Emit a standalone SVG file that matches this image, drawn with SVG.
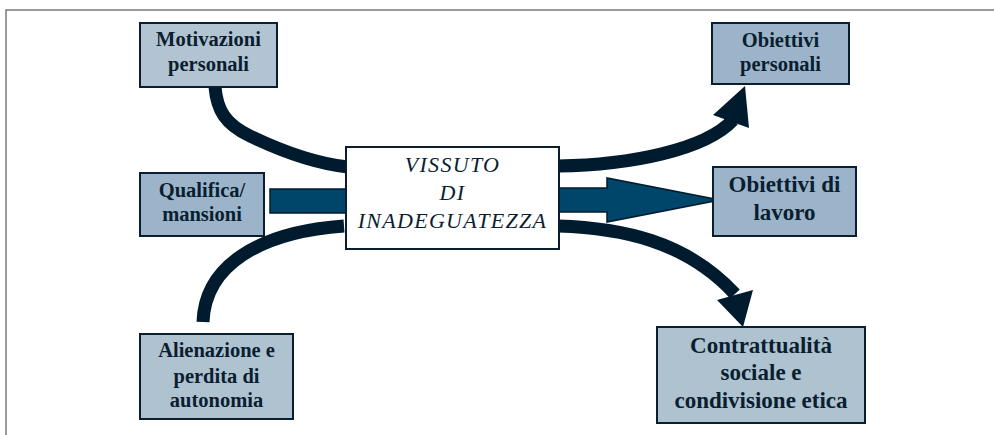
<svg xmlns="http://www.w3.org/2000/svg" width="994" height="435" viewBox="0 0 994 435">
<style>
.box{stroke:#0b1e30;stroke-width:2}
.lt{fill:#b2c4d2}
.md{fill:#9bb4c9}
.al{fill:#aec2d0}
.t{font-family:"Liberation Serif","Times New Roman",serif;font-weight:bold;fill:#0a1e30;text-anchor:middle;font-size:20.5px}
.tb{font-size:23px}
.ci{font-family:"Liberation Serif","Times New Roman",serif;font-style:italic;fill:#0a1e30;text-anchor:middle;font-size:22px;letter-spacing:1.3px}
.curve{fill:none;stroke:#001a2e;stroke-width:13}
.head{fill:#001a2e}
.blue{fill:#00466a;stroke:#001a2e;stroke-width:1.5}
</style>
<rect width="994" height="435" fill="#ffffff"/>
<g id="frame" fill="none" stroke="#7a7a7a" stroke-width="1.5">
<path d="M6,435 L6,10 L994,10"/>
</g>
<g id="connectors">
<path class="curve" d="M215,87 C217,110 225,124 250,136 S310,163 348,167"/>
<path class="curve" d="M344,226 C260,232 205,265 203,322"/>
<rect class="blue" x="270" y="189" width="77" height="24"/>
<path class="curve" d="M558,166 C630,165 705,150 733,120"/>
<polygon class="head" points="745,86 713,115 749,128"/>
<polygon class="blue" points="558,188 607,188 607,178 720,200 607,222 607,212 558,212"/>
<path class="curve" d="M558,226 C620,228 685,240 735,294"/>
<polygon class="head" points="743,327 717,300 753,290"/>
</g>
<g id="motivazioni">
<rect class="box lt" x="140" y="23" width="137" height="64"/>
<text class="t" x="208.5" y="46">Motivazioni</text>
<text class="t" x="208.5" y="71">personali</text>
</g>
<g id="qualifica">
<rect class="box md" x="140" y="173" width="124" height="63"/>
<text class="t" x="202" y="197">Qualifica/</text>
<text class="t" x="202" y="221">mansioni</text>
</g>
<g id="alienazione">
<rect class="box al" x="140" y="334" width="153" height="85"/>
<text class="t" x="216.5" y="357">Alienazione e</text>
<text class="t" x="216.5" y="383">perdita di</text>
<text class="t" x="216.5" y="407">autonomia</text>
</g>
<g id="vissuto">
<rect x="346" y="147" width="213" height="102" fill="#ffffff" stroke="#0b1e30" stroke-width="2"/>
<text class="ci" x="452.5" y="172">VISSUTO</text>
<text class="ci" x="452.5" y="200">DI</text>
<text class="ci" x="452.5" y="228">INADEGUATEZZA</text>
</g>
<g id="obiettivi-personali">
<rect class="box md" x="712" y="23" width="137" height="61"/>
<text class="t" x="780.5" y="47">Obiettivi</text>
<text class="t" x="780.5" y="71">personali</text>
</g>
<g id="obiettivi-lavoro">
<rect class="box md" x="713" y="167" width="143" height="69"/>
<text class="t tb" x="784.5" y="192">Obiettivi di</text>
<text class="t tb" x="784.5" y="220">lavoro</text>
</g>
<g id="contrattualita">
<rect class="box al" x="657" y="327" width="208" height="96"/>
<text class="t tb" x="761" y="353">Contrattualità</text>
<text class="t tb" x="761" y="380">sociale e</text>
<text class="t tb" x="761" y="408">condivisione etica</text>
</g>
</svg>
